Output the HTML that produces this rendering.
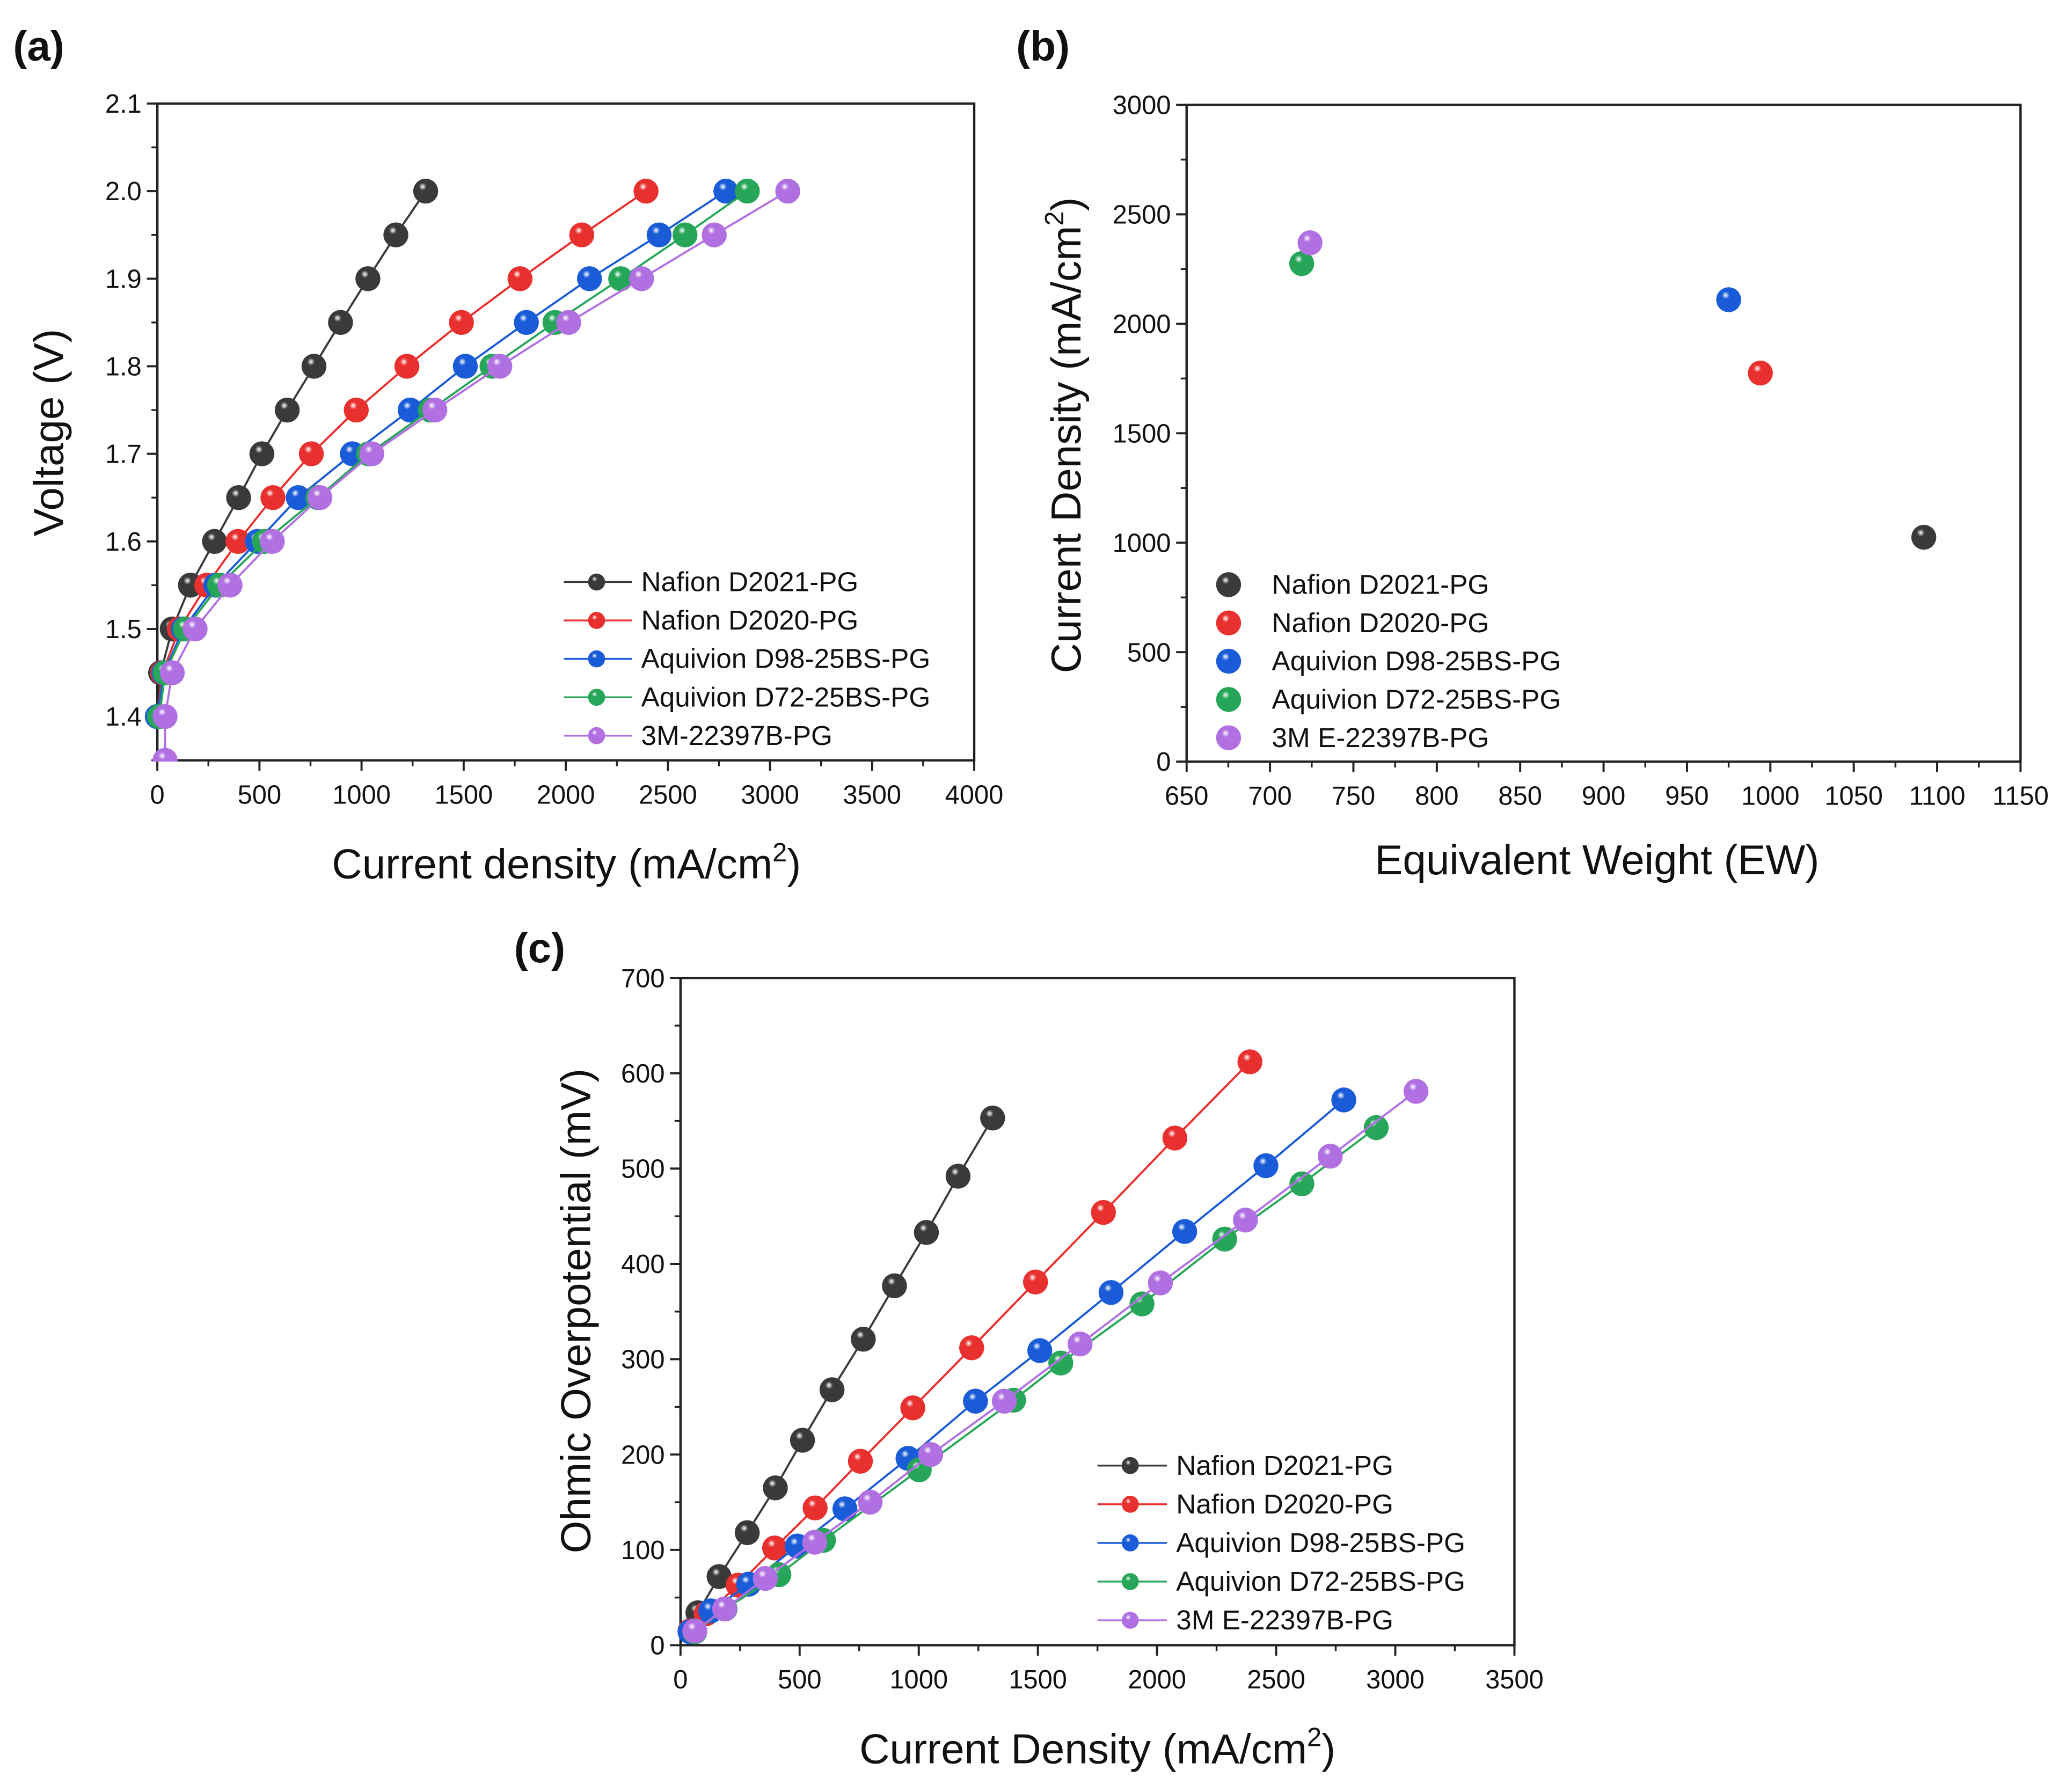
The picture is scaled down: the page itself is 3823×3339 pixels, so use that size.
<!DOCTYPE html>
<html><head><meta charset="utf-8"><style>
html,body{margin:0;padding:0;background:#fff;}
svg{display:block;}
text{font-family:"Liberation Sans",Arial,sans-serif;fill:#111;}
</style></head><body>
<svg id="fig" width="3823" height="3339" viewBox="0 0 1565 1367" preserveAspectRatio="none" xmlns="http://www.w3.org/2000/svg">
<defs id="defs"></defs>
</svg>
<script>
// ---------- DATA ----------
const seriesNames = ["Nafion D2021-PG","Nafion D2020-PG","Aquivion D98-25BS-PG","Aquivion D72-25BS-PG","3M-22397B-PG"];
const seriesNamesBC = ["Nafion D2021-PG","Nafion D2020-PG","Aquivion D98-25BS-PG","Aquivion D72-25BS-PG","3M E-22397B-PG"];
const colors = ["#3a3a3a","#e8302e","#1a5cd8","#27a659","#b070e2"];
// panel a: voltages and currents (descending voltage)
const voltA = [2.0,1.95,1.9,1.85,1.8,1.75,1.7,1.65,1.6,1.55,1.5,1.45,1.4,1.35];
const curA0 = [1314,1168,1031,897,767,636,512,398,280,162,73,16,0];
const curA1 = [2393,2078,1776,1489,1222,974,754,566,395,242,108,25,0];
const curA2 = [2784,2457,2116,1807,1508,1238,955,690,490,286,127,32,0];
const curA3 = [2889,2584,2269,1947,1639,1337,1034,786,525,305,137,38,10];
const curA4 = [3087,2727,2371,2014,1677,1359,1050,796,563,356,185,73,38,38];
// panel b
const ewB = [1092,994,975,719,724];
const cdB = [1025,1775,2110,2275,2370];
// panel c: currents and ohmic overpotential (mV)
const curC0 = [1310,1165,1032,898,767,636,512,398,280,162,73];
const curC1 = [2390,2075,1775,1490,1222,975,755,565,395,242,108,40];
const curC2 = [2784,2457,2116,1807,1508,1238,955,690,490,286,127,40];
const curC3 = [2920,2608,2284,1937,1596,1398,1002,600,413,187,60];
const curC4 = [3087,2727,2371,2014,1677,1359,1050,796,563,356,185,60];
const ohmC0 = [553,492,433,377,321,268,215,165,118,72,34];
const ohmC1 = [612,532,454,381,312,249,193,144,102,63,33,15];
const ohmC2 = [572,503,434,370,309,256,196,143,104,64,36,14];
const ohmC3 = [543,484,426,358,296,257,184,110,74,38,14];
const ohmC4 = [581,513,446,380,316,256,200,150,108,70,38,15];
// ticks
const ticksAx = [0,500,1000,1500,2000,2500,3000,3500,4000];
const ticksAy = ["1.4","1.5","1.6","1.7","1.8","1.9","2.0","2.1"];
const ticksBx = [650,700,750,800,850,900,950,1000,1050,1100,1150];
const ticksBy = [0,500,1000,1500,2000,2500,3000];
const ticksCx = [0,500,1000,1500,2000,2500,3000,3500];
const ticksCy = [0,100,200,300,400,500,600,700];

const NS="http://www.w3.org/2000/svg";
const svg=document.getElementById('fig');
const defs=document.getElementById('defs');
function mk(tag,attrs,parent){const e=document.createElementNS(NS,tag);for(const k in attrs)e.setAttribute(k,attrs[k]);(parent||svg).appendChild(e);return e;}
colors.forEach((c,i)=>{
  const g=mk('radialGradient',{id:'g'+i,cx:'0.38',cy:'0.32',r:'0.7'},defs);
  mk('stop',{offset:'0',"stop-color":'#ffffff'},g);
  mk('stop',{offset:'0.22',"stop-color":c},g);
  mk('stop',{offset:'1',"stop-color":c},g);
});
function txt(x,y,s,size,anchor,parent,extra){const t=mk('text',Object.assign({x:x,y:y,"font-size":size,"text-anchor":anchor||'start'},extra||{}),parent);t.textContent=s;return t;}
function ball(g,x,y,r,i,name){const c=mk('circle',{cx:x,cy:y,r:r,fill:'url(#g'+i+')'},g);

return c;}

function frame(L,R,T,B,name){
  const g=mk('g',{});
  
  
  mk('rect',{x:L,y:T,width:R-L,height:B-T,fill:'none',stroke:'#222','stroke-width':1.8},g);
  return g;
}
function xTicks(g,vals,sx,B,minorStep,lo,hi,size){
  vals.forEach(v=>{const x=sx(v);mk('line',{x1:x,y1:B,x2:x,y2:B+8,stroke:'#222','stroke-width':1.6},g);
    const t=txt(x,B+33,String(v),size,'middle',g);
    
    });
  for(let v=lo;v<=hi+1e-9;v+=minorStep){const x=sx(v);mk('line',{x1:x,y1:B,x2:x,y2:B+4.5,stroke:'#222','stroke-width':1.4},g);}
}
function yTicks(g,vals,sy,L,minorStep,lo,hi,size){
  vals.forEach(v=>{const y=sy(parseFloat(v));mk('line',{x1:L,y1:y,x2:L-8,y2:y,stroke:'#222','stroke-width':1.6},g);
    const t=txt(L-12,y+7,String(v),size,'end',g);
    
    });
  for(let v=lo;v<=hi+1e-9;v+=minorStep){const y=sy(v);mk('line',{x1:L,y1:y,x2:L-4.5,y2:y,stroke:'#222','stroke-width':1.4},g);}
}
function lineSeries(g,xs,ys,sx,sy,i,r,name){
  const pts=xs.map((x,k)=>sx(x)+','+sy(ys[k])).join(' ');
  const pl=mk('polyline',{points:pts,fill:'none',stroke:colors[i],'stroke-width':1.6},g);
  
  
  xs.forEach((x,k)=>ball(g,sx(x),sy(ys[k]),r,i,name+'-point'));
}

// ---------- PANEL A ----------
(function(){
  const L=120,R=743,T=79,B=580;
  const sx=v=>L+(v/4000)*(R-L), sy=v=>B-(v-1.35)/0.75*(B-T);
  const g=frame(L,R,T,B,'panel-a');
  const lab=txt(10,46,'(a)',32,'start',g,{"font-weight":'bold'});
  
  
  xTicks(g,ticksAx,sx,B,250,0,4000,20);
  yTicks(g,ticksAy,sy,L,0.05,1.35,2.1,20);
  const clip=mk('clipPath',{id:'ca'},defs);mk('rect',{x:L-12,y:T,width:R-L+12,height:B-T+1},clip);
  const dg=mk('g',{"clip-path":'url(#ca)'},g);
  
  
  const cur=[curA0,curA1,curA2,curA3,curA4];
  cur.forEach((c,i)=>lineSeries(dg,c,voltA.slice(0,c.length),sx,sy,i,9.5,'a-series-'+i));
  const yt=txt(0,0,'Voltage (V)',32,'middle',g,{transform:'translate(48,330) rotate(-90)'});
  
  
  const xt=mk('text',{x:432,y:670,"font-size":32,"text-anchor":'middle'},g);
  xt.innerHTML='Current density (mA/cm<tspan dy="-13" font-size="20">2</tspan><tspan dy="13">)</tspan>';
  
  
  seriesNames.forEach((n,i)=>{const y=444+i*29.3;
    const lg=mk('g',{},g);
    
    
    mk('line',{x1:430,y1:y,x2:482,y2:y,stroke:colors[i],'stroke-width':1.4},lg);
    ball(lg,455,y,6.5,i,'legend-marker');
    txt(489,y+7,n,21,'start',lg);});
})();

// ---------- PANEL B ----------
(function(){
  const L=905,R=1541,T=80,B=581;
  const sx=v=>L+(v-650)/500*(R-L), sy=v=>B-v/3000*(B-T);
  const g=frame(L,R,T,B,'panel-b');
  const lab=txt(775,46,'(b)',32,'start',g,{"font-weight":'bold'});
  
  
  xTicks(g,ticksBx,sx,B,25,650,1150,20);
  yTicks(g,ticksBy,sy,L,250,0,3000,20);
  ewB.forEach((e,i)=>ball(g,sx(e),sy(cdB[i]),9.5,i,'b-point-'+i));
  const yt=mk('text',{"font-size":32,"text-anchor":'middle',transform:'translate(824,332) rotate(-90)'},g);
  yt.innerHTML='Current Density (mA/cm<tspan dy="-13" font-size="20">2</tspan><tspan dy="13">)</tspan>';
  
  
  const xt=txt(1218,667,'Equivalent Weight (EW)',32,'middle',g);
  
  
  seriesNamesBC.forEach((n,i)=>{const y=446+i*29.2;
    const lg=mk('g',{},g);
    
    
    ball(lg,937,y,9.5,i,'legend-marker');
    txt(970,y+7,n,21,'start',lg);});
})();

// ---------- PANEL C ----------
(function(){
  const L=519,R=1155,T=746,B=1255;
  const sx=v=>L+v/3500*(R-L), sy=v=>B-v/700*(B-T);
  const g=frame(L,R,T,B,'panel-c');
  const lab=txt(392,734,'(c)',32,'start',g,{"font-weight":'bold'});
  
  
  xTicks(g,ticksCx,sx,B,250,0,3500,20);
  yTicks(g,ticksCy,sy,L,50,0,700,20);
  const cur=[curC0,curC1,curC2,curC3,curC4];
  const ohm=[ohmC0,ohmC1,ohmC2,ohmC3,ohmC4];
  const dg=mk('g',{},g);
  
  
  ohm.forEach((o,i)=>lineSeries(dg,cur[i],o,sx,sy,i,9.5,'c-series-'+i));
  const yt=txt(0,0,'Ohmic Overpotential (mV)',32,'middle',g,{transform:'translate(450,1000) rotate(-90)'});
  
  
  const xt=mk('text',{x:837,y:1345,"font-size":32,"text-anchor":'middle'},g);
  xt.innerHTML='Current Density (mA/cm<tspan dy="-13" font-size="20">2</tspan><tspan dy="13">)</tspan>';
  
  
  seriesNamesBC.forEach((n,i)=>{const y=1118+i*29.5;
    const lg=mk('g',{},g);
    
    
    mk('line',{x1:837,y1:y,x2:890,y2:y,stroke:colors[i],'stroke-width':1.4},lg);
    ball(lg,862,y,6.5,i,'legend-marker');
    txt(897,y+7,n,21,'start',lg);});
})();
</script>
</body></html>
